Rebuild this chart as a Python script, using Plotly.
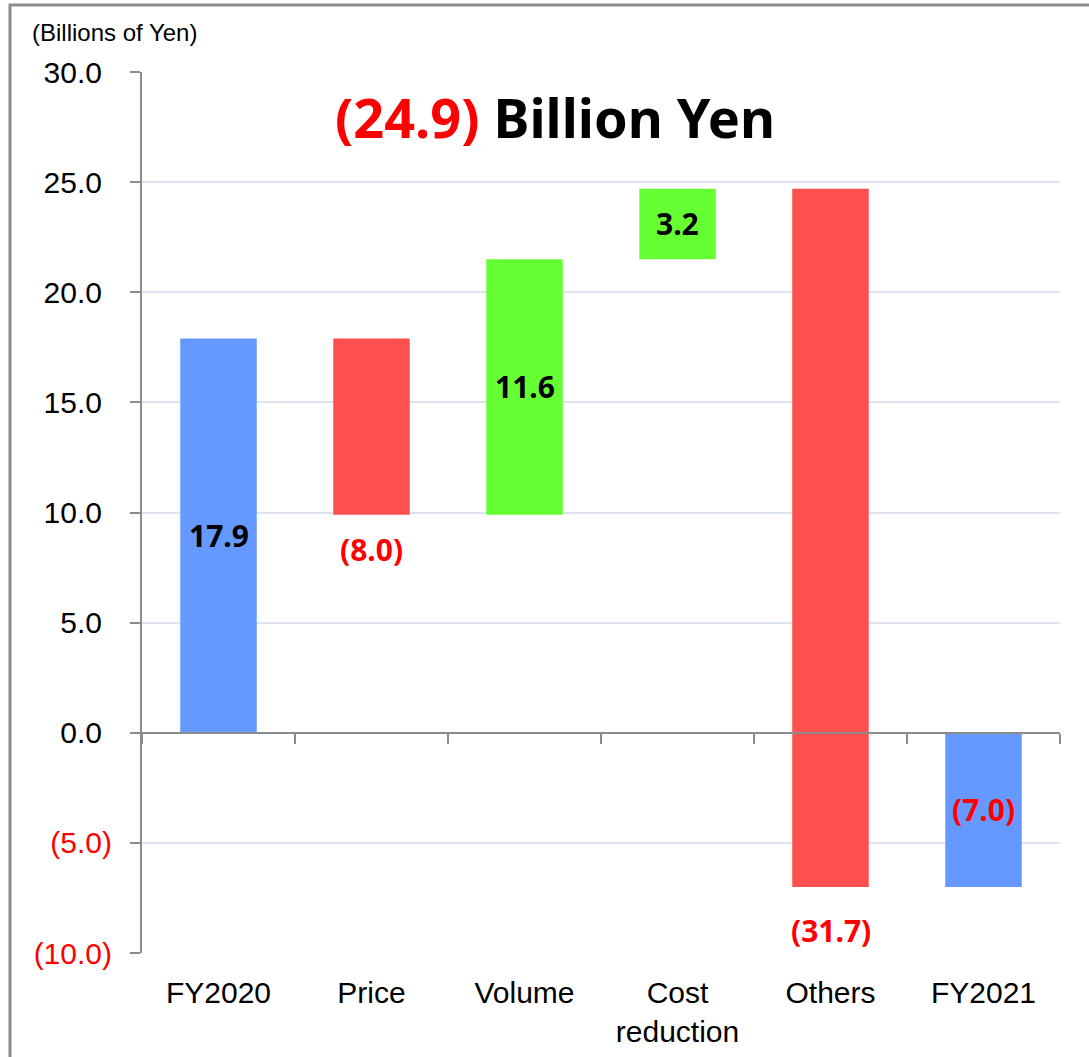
import plotly.graph_objects as go

# data
categories = ["FY2020", "Price", "Volume", "Cost<br>reduction", "Others", "FY2021"]
measures = ["absolute", "relative", "relative", "relative", "relative", "total"]
changes = [17.9, -8.0, 11.6, 3.2, -31.7, -7.0]
y_ticks = [-10, -5, 0, 5, 10, 15, 20, 25, 30]
headline = -24.9

RED = "#FF0000"
GRAY = "#8C8C8C"
GRID = "#DCE4F0"


def fmt(v):
    return f"({abs(v):.1f})" if v < 0 else f"{v:.1f}"


def tick_fmt(v):
    if v < 0:
        return f'<span style="color:{RED}">({abs(v):.1f})</span>'
    return f'{v:.1f}<span style="color:rgba(0,0,0,0)">)</span>'


fig = go.Figure()
fig.add_trace(go.Waterfall(
    x=categories, y=changes, measure=measures,
    increasing=dict(marker=dict(color="#66FF33", line=dict(width=0))),
    decreasing=dict(marker=dict(color="#FF5050", line=dict(width=0))),
    totals=dict(marker=dict(color="#6699FF", line=dict(width=0))),
    connector=dict(visible=False),
    hoverinfo="skip",
))
# invisible trace so the zero-line axis knows the categories
fig.add_trace(go.Scatter(x=categories, y=[0] * len(categories), xaxis="x2",
                         mode="markers", marker=dict(opacity=0),
                         hoverinfo="skip", showlegend=False))

# data labels
label_shift = [0, -35, 0, 0, -44, 0]
run = 0.0
for cat, m, v, sh in zip(categories, measures, changes, label_shift):
    if m == "absolute":
        base, end = 0.0, v
    elif m == "total":
        base, end = 0.0, run
    else:
        base, end = run, run + v
    run = end
    ypos = end if m == "relative" and v < 0 else (base + end) / 2
    fig.add_annotation(x=cat, y=ypos, yshift=sh, text=f"<b>{fmt(end - base)}</b>",
                       showarrow=False,
                       font=dict(family="Noto Sans", size=30,
                                 color=RED if (end - base) < 0 else "black"))

fig.add_annotation(xref="paper", yref="paper", x=0.45, y=0.949, xanchor="center", yanchor="middle",
                   text=f'<b><span style="color:{RED}">{fmt(headline)}</span> Billion Yen</b>',
                   showarrow=False, font=dict(family="Noto Sans", size=54, color="black"))
fig.add_annotation(xref="paper", yref="paper", x=-0.122, y=1.045, xanchor="left", yanchor="middle",
                   text="(Billions of Yen)", showarrow=False,
                   font=dict(family="Liberation Sans", size=24, color="black"))

# outer frame
fig.add_shape(type="rect", xref="paper", yref="paper", x0=-0.1438, x1=1.2, y0=-0.3, y1=1.076,
              line=dict(color=GRAY, width=3), layer="below")

fig.update_layout(
    width=1089, height=1057,
    margin=dict(l=142, r=29, t=72, b=104),
    paper_bgcolor="white", plot_bgcolor="white",
    showlegend=False, waterfallgap=0.5,
    font=dict(family="Liberation Sans", size=30, color="black"),
    xaxis=dict(type="category", showline=False, ticks="", showgrid=False, automargin=False,
               tickfont=dict(size=30), ticklabelstandoff=19),
    xaxis2=dict(type="category", overlaying="x", matches="x", anchor="free", position=0.25,
                showline=True, linecolor=GRAY, linewidth=2, ticks="outside",
                tickson="boundaries", ticklen=10, tickcolor=GRAY, tickwidth=2,
                showticklabels=False, showgrid=False, automargin=False),
    yaxis=dict(range=[-10, 30], tickvals=y_ticks, ticktext=[tick_fmt(v) for v in y_ticks],
               showline=True, linecolor=GRAY, linewidth=2, ticks="outside", ticklen=10,
               tickcolor=GRAY, tickwidth=2, gridcolor=GRID, gridwidth=2, zeroline=False,
               automargin=False, tickfont=dict(size=30), ticklabelstandoff=12),
)

fig.write_html("out.html", config={"displayModeBar": False},
               post_script="document.body.style.margin='0';")
